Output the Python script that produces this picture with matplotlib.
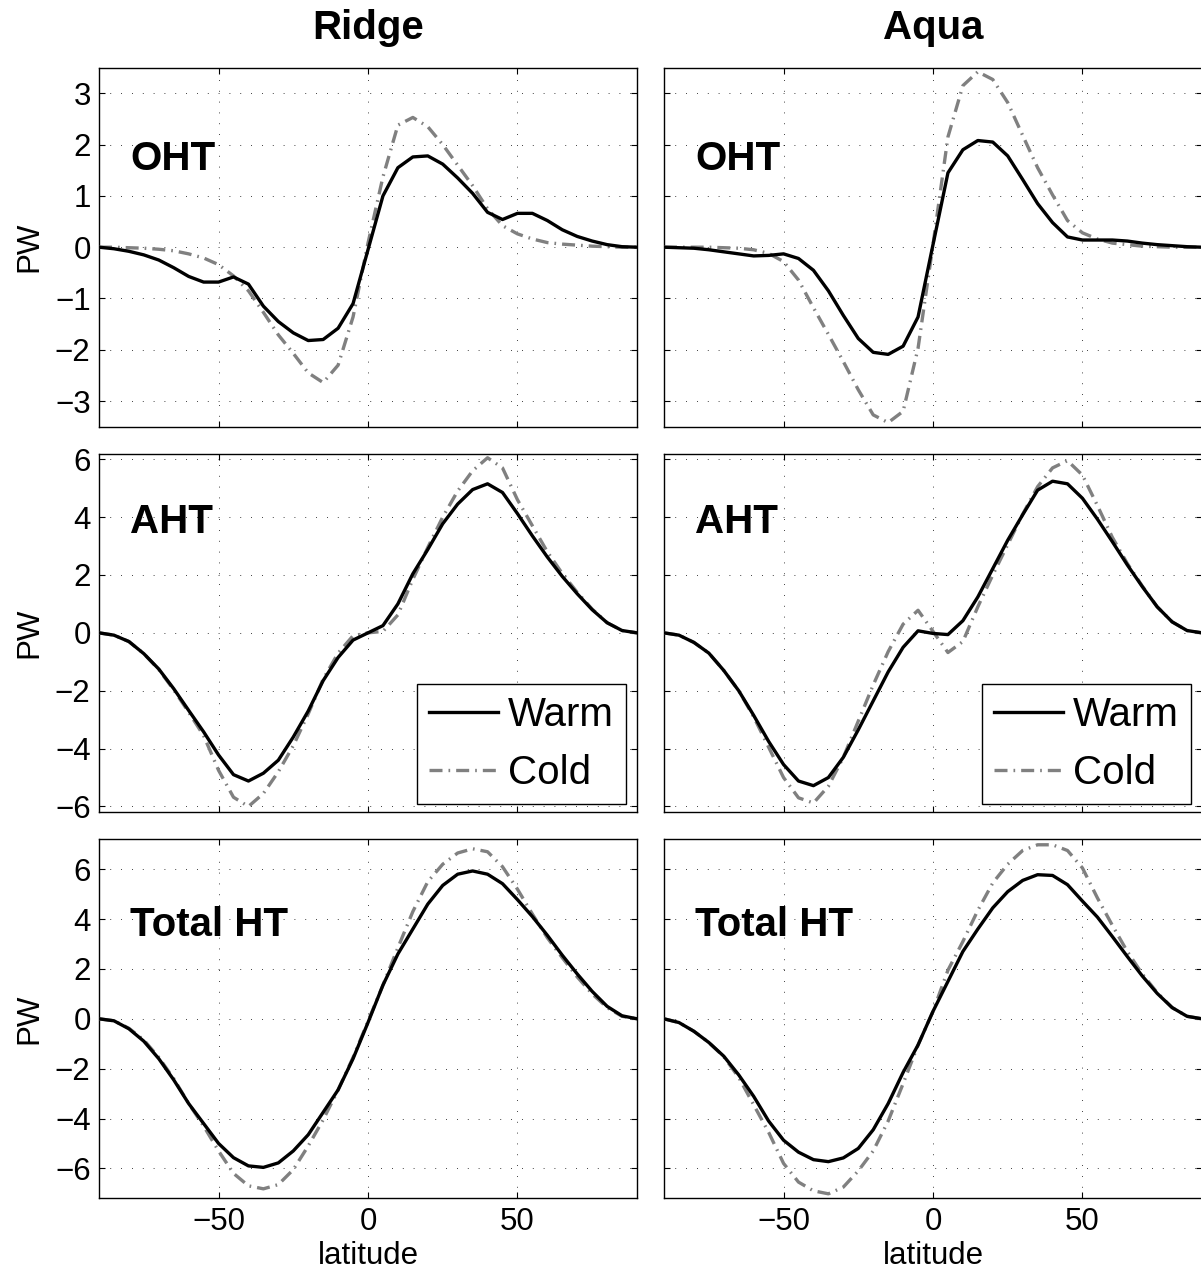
import numpy as np
import matplotlib
matplotlib.use("Agg")
import matplotlib.pyplot as plt

plt.rcParams['font.family'] = ['Liberation Sans', 'DejaVu Sans']

lat = np.arange(-90, 91, 5)

# ocean heat transport (PW)
oht_ridge_warm = [0, -0.03, -0.08, -0.15, -0.25, -0.40, -0.57, -0.68, -0.68, -0.58, -0.72, -1.15, -1.45,
                  -1.67, -1.82, -1.80, -1.58, -1.10, -0.05, 1.00, 1.55, 1.76, 1.78, 1.62, 1.35, 1.05,
                  0.68, 0.54, 0.66, 0.66, 0.52, 0.34, 0.21, 0.12, 0.05, 0.01, 0]
oht_ridge_cold = [0, 0, -0.01, -0.02, -0.04, -0.07, -0.13, -0.21, -0.34, -0.56, -0.85, -1.27, -1.71,
                  -2.07, -2.45, -2.64, -2.30, -1.36, 0.08, 1.37, 2.38, 2.53, 2.35, 2.00, 1.60, 1.20,
                  0.75, 0.42, 0.26, 0.16, 0.09, 0.06, 0.04, 0.02, 0.01, 0, 0]
oht_aqua_warm = [0, -0.01, -0.02, -0.05, -0.09, -0.13, -0.17, -0.16, -0.13, -0.22, -0.45, -0.85, -1.33,
                 -1.78, -2.05, -2.09, -1.93, -1.36, 0.05, 1.45, 1.90, 2.08, 2.05, 1.78, 1.32, 0.85,
                 0.48, 0.20, 0.14, 0.14, 0.14, 0.12, 0.08, 0.05, 0.03, 0.01, 0]
oht_aqua_cold = [0, 0, 0, 0, -0.01, -0.02, -0.05, -0.12, -0.28, -0.64, -1.18, -1.70, -2.23,
                 -2.78, -3.27, -3.42, -3.20, -1.97, 0.05, 2.15, 3.15, 3.42, 3.27, 2.82, 2.18, 1.55,
                 1.02, 0.52, 0.28, 0.16, 0.08, 0.05, 0.02, 0.01, 0, 0, 0]

# atmospheric heat transport (PW)
aht_ridge_warm = [0, -0.08, -0.30, -0.72, -1.25, -1.93, -2.68, -3.42, -4.22, -4.90, -5.12, -4.85, -4.40,
                  -3.60, -2.70, -1.65, -0.85, -0.25, 0, 0.25, 1.00, 2.04, 2.88, 3.77, 4.45, 4.95,
                  5.15, 4.85, 4.12, 3.35, 2.62, 1.95, 1.35, 0.80, 0.35, 0.08, 0]
aht_ridge_cold = [0, -0.08, -0.30, -0.72, -1.27, -1.97, -2.74, -3.55, -4.75, -5.68, -6.00, -5.55, -4.80,
                  -3.90, -2.80, -1.60, -0.70, -0.10, 0, 0.05, 0.62, 1.85, 2.95, 4.00, 4.90, 5.60,
                  6.05, 5.70, 4.60, 3.70, 2.80, 2.05, 1.40, 0.82, 0.35, 0.08, 0]
aht_aqua_warm = [0, -0.08, -0.33, -0.70, -1.30, -2.00, -2.85, -3.75, -4.55, -5.12, -5.28, -5.00, -4.30,
                 -3.35, -2.35, -1.35, -0.50, 0.07, -0.02, -0.06, 0.42, 1.24, 2.22, 3.20, 4.08, 4.93,
                 5.24, 5.15, 4.65, 3.93, 3.15, 2.35, 1.60, 0.90, 0.38, 0.08, 0]
aht_aqua_cold = [0, -0.08, -0.33, -0.70, -1.30, -2.00, -2.90, -3.95, -5.00, -5.70, -5.88, -5.30, -4.30,
                 -3.05, -1.80, -0.65, 0.30, 0.78, 0.05, -0.68, -0.30, 0.90, 2.00, 3.05, 4.10, 5.05,
                 5.70, 5.95, 5.45, 4.40, 3.30, 2.40, 1.62, 0.90, 0.38, 0.08, 0]

# total heat transport (PW)
tot_ridge_warm = [0, -0.08, -0.40, -0.90, -1.60, -2.45, -3.40, -4.20, -5.00, -5.57, -5.90, -5.96, -5.78,
                  -5.30, -4.65, -3.75, -2.85, -1.60, -0.15, 1.35, 2.60, 3.60, 4.60, 5.35, 5.80, 5.93,
                  5.80, 5.42, 4.78, 4.10, 3.35, 2.55, 1.80, 1.10, 0.50, 0.12, 0]
tot_ridge_cold = [0, -0.08, -0.38, -0.85, -1.55, -2.40, -3.40, -4.30, -5.30, -6.20, -6.70, -6.82, -6.65,
                  -6.05, -5.10, -4.05, -2.85, -1.55, -0.10, 1.35, 2.85, 4.30, 5.50, 6.20, 6.65, 6.82,
                  6.70, 6.10, 5.20, 4.20, 3.25, 2.45, 1.68, 1.00, 0.45, 0.10, 0]
tot_aqua_warm = [0, -0.15, -0.50, -0.95, -1.50, -2.25, -3.11, -4.10, -4.87, -5.35, -5.65, -5.73, -5.58,
                 -5.20, -4.45, -3.40, -2.15, -1.05, 0.30, 1.50, 2.70, 3.60, 4.45, 5.10, 5.55, 5.78,
                 5.75, 5.38, 4.72, 4.08, 3.30, 2.50, 1.72, 1.02, 0.45, 0.10, 0]
tot_aqua_cold = [0, -0.15, -0.50, -0.95, -1.52, -2.35, -3.45, -4.55, -5.80, -6.55, -6.90, -7.02, -6.75,
                 -6.10, -5.30, -4.10, -2.60, -1.05, 0.30, 1.95, 3.10, 4.35, 5.45, 6.20, 6.75, 6.98,
                 6.98, 6.75, 6.05, 4.85, 3.75, 2.70, 1.80, 1.05, 0.45, 0.10, 0]

col_titles = ["Ridge", "Aqua"]
row_labels = ["OHT", "AHT", "Total HT"]
warm = [[oht_ridge_warm, oht_aqua_warm], [aht_ridge_warm, aht_aqua_warm], [tot_ridge_warm, tot_aqua_warm]]
cold = [[oht_ridge_cold, oht_aqua_cold], [aht_ridge_cold, aht_aqua_cold], [tot_ridge_cold, tot_aqua_cold]]
ylims = [3.5, 6.18, 7.2]
yticks = [np.arange(-3, 4, 1), np.arange(-6, 7, 2), np.arange(-6, 7, 2)]
label_y = [1.5, 3.45, 3.31]

fig = plt.figure(figsize=(12.01, 12.77), dpi=100)

lefts = [99 / 1201, 664 / 1201]
width = 538 / 1201
bottoms = [1 - 426.7 / 1277, 1 - 811.7 / 1277, 1 - 1198.3 / 1277]
heights = [359 / 1277, 357.7 / 1277, 359 / 1277]

cold_dash = [3.9, 1.8, 0.5, 1.8]

for r in range(3):
    for c in range(2):
        ax = fig.add_axes([lefts[c], bottoms[r], width, heights[r]])
        ax.plot(lat, cold[r][c], color='#808080', lw=2.4, dashes=cold_dash, label='Cold', zorder=3)
        ax.plot(lat, warm[r][c], color='k', lw=2.4, label='Warm', zorder=4)
        ax.set_xlim(-90, 90)
        ax.set_ylim(-ylims[r], ylims[r])
        ax.set_xticks([-50, 0, 50])
        ax.set_yticks(yticks[r])
        ax.grid(True, color='k', lw=0.6, linestyle=(0, (1, 12)))
        ax.tick_params(direction='in', length=4.3, width=0.8, top=True, right=True,
                       labelsize=22.5, pad=6)
        for sp in ax.spines.values():
            sp.set_linewidth(1.0)
        ax.text(-79.6, label_y[r], row_labels[r], fontsize=29, fontweight='bold', va='baseline')
        if r < 2:
            ax.set_xticklabels([])
        else:
            ax.set_xticklabels(['\u221250', '0', '50'])
            ax.set_xlabel('latitude', fontsize=22.5)
            ax.xaxis.set_label_coords(0.5, -0.12)
        if c == 1:
            ax.set_yticklabels([])
        else:
            ax.set_yticklabels([str(int(t)).replace('-', '\u2212') for t in yticks[r]])
            ax.set_ylabel('PW', fontsize=22.5)
            ax.yaxis.set_label_coords(-0.102, 0.5)
        if r == 0:
            ax.set_title(col_titles[c], fontsize=29, fontweight='bold', pad=21)
        if r == 1:
            h, l = ax.get_legend_handles_labels()
            leg = ax.legend([h[1], h[0]], [l[1], l[0]], loc='lower right',
                            bbox_to_anchor=(0.979, 0.0215), borderaxespad=0,
                            fontsize=29, frameon=True, fancybox=False, framealpha=1,
                            edgecolor='k', borderpad=0.3, labelspacing=0.5,
                            handlelength=1.7, handletextpad=0.25)
            leg.get_frame().set_linewidth(1.0)
            leg.set_zorder(5)

fig.savefig('out.png', dpi=100)
